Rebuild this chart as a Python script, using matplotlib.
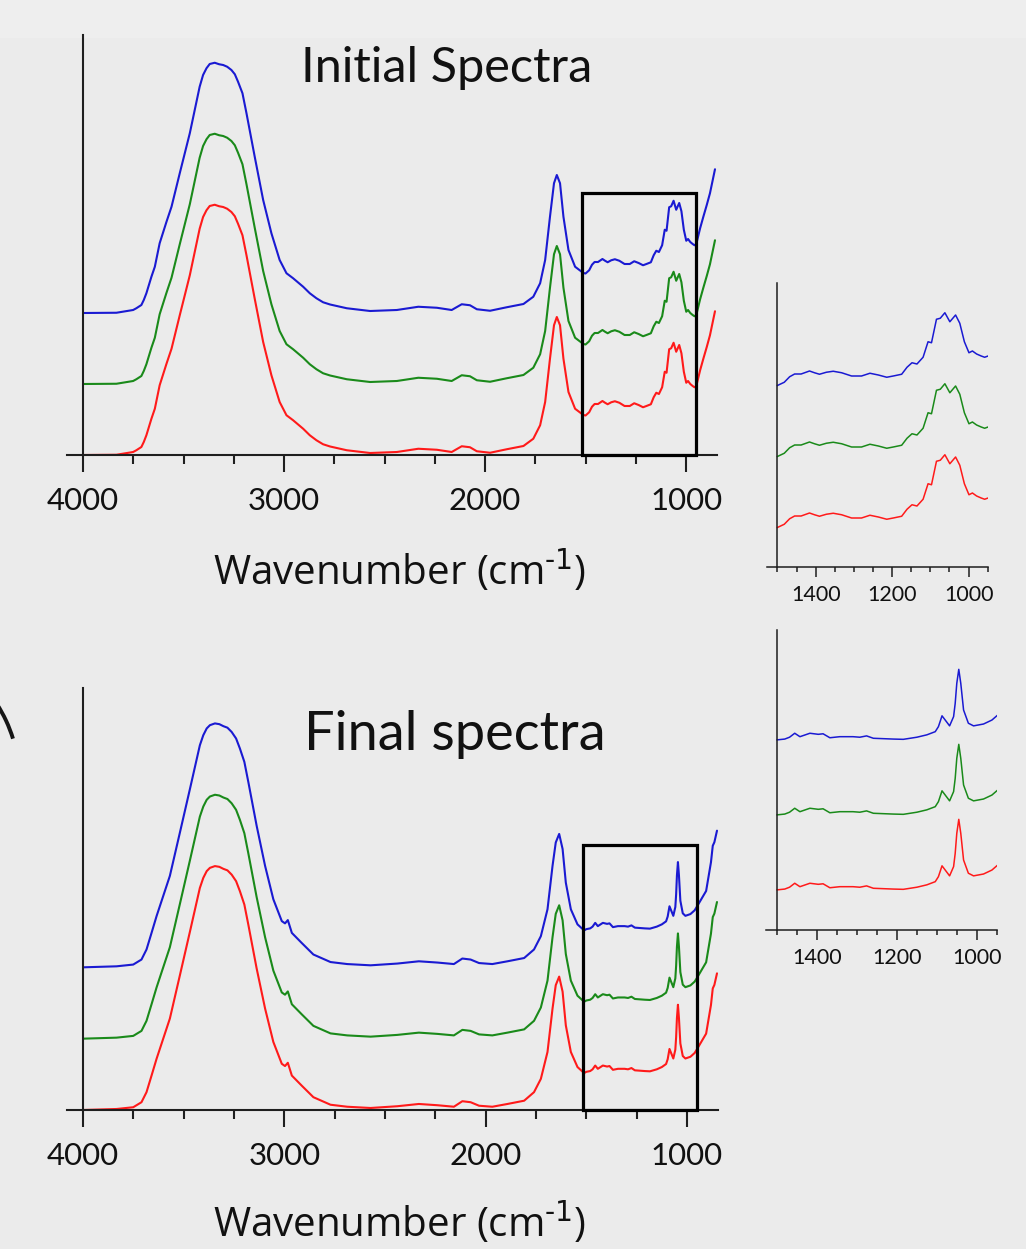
import numpy as np
import matplotlib.pyplot as plt
from matplotlib.patches import Rectangle, Arc
from matplotlib.ticker import MultipleLocator

# wavenumber (cm-1) / absorbance, initial spectra
initialWn = [4000, 3834, 3751, 3735, 3710, 3698, 3685, 3660, 3643, 3619, 3585, 3560,
             3519, 3469, 3420, 3403, 3386, 3370, 3345, 3323, 3303, 3283, 3262, 3245,
             3229, 3207, 3187, 3146,
             3104, 3063, 3022, 2988, 2955, 2905, 2872, 2839, 2806, 2771, 2688, 2572,
             2439, 2332, 2240, 2166, 2116, 2075, 2041, 1975, 1892, 1809,
             1760, 1726, 1701, 1677, 1657, 1643, 1627, 1610, 1585, 1552, 1511,
             1500, 1482, 1468, 1455, 1438, 1416, 1403, 1390, 1372, 1354,
             1332, 1306, 1280, 1258, 1236, 1214, 1197, 1175, 1161, 1148,
             1135, 1119, 1106, 1097, 1084, 1074, 1062, 1049, 1034, 1023,
             1011, 999, 990, 979, 967, 958, 949,
             930, 914, 897, 881, 856]
initialAbs = [0.000, 0.001, 0.012, 0.019, 0.032, 0.052, 0.079, 0.145, 0.185, 0.279, 0.365, 0.425,
              0.559, 0.719, 0.905, 0.952, 0.979, 0.996, 1.001, 0.995, 0.992, 0.985, 0.972, 0.955,
              0.925, 0.879, 0.799, 0.625,
              0.452, 0.319, 0.212, 0.159, 0.139, 0.105, 0.079, 0.059, 0.043, 0.034, 0.019, 0.008,
              0.012, 0.025, 0.021, 0.012, 0.035, 0.031, 0.015, 0.009, 0.023, 0.036,
              0.065, 0.119, 0.212, 0.385, 0.519, 0.552, 0.519, 0.385, 0.252, 0.185, 0.160,
              0.158, 0.171, 0.193, 0.204, 0.204, 0.216, 0.209, 0.203, 0.211, 0.215,
              0.209, 0.196, 0.196, 0.207, 0.200, 0.191, 0.196, 0.203, 0.231, 0.249,
              0.244, 0.271, 0.333, 0.329, 0.423, 0.427, 0.449, 0.413, 0.440, 0.407,
              0.333, 0.289, 0.296, 0.284, 0.276, 0.271, 0.276,
              0.339, 0.385, 0.432, 0.479, 0.575]

# final spectra
finalWn = [4000, 3834, 3751, 3710, 3685, 3660, 3635, 3602, 3569, 3519,
           3469, 3420, 3403, 3386, 3370, 3345, 3323, 3303, 3283, 3262, 3240, 3221, 3199,
           3179, 3138, 3096,
           3055, 3013, 2997, 2983, 2963, 2914, 2856, 2771, 2688, 2572,
           2439, 2332, 2240, 2158, 2116, 2075, 2033, 1967, 1892, 1809,
           1760, 1726, 1693, 1668, 1652, 1635, 1618, 1602, 1577, 1544, 1511,
           1500, 1481, 1469, 1456, 1443, 1418, 1397, 1385, 1368, 1343,
           1310, 1293, 1276, 1259, 1209, 1184, 1150, 1125, 1104, 1096,
           1087, 1079, 1068, 1058, 1054, 1050, 1045, 1040, 1033, 1021,
           1008, 983, 962, 949, 905, 881, 872, 864, 851]
finalAbs = [0.000, 0.004, 0.011, 0.031, 0.071, 0.137, 0.204, 0.284, 0.364, 0.537,
            0.711, 0.884, 0.924, 0.951, 0.964, 0.971, 0.968, 0.960, 0.954, 0.937, 0.911, 0.871, 0.818,
            0.737, 0.564, 0.404,
            0.271, 0.184, 0.175, 0.188, 0.137, 0.097, 0.051, 0.021, 0.013, 0.008,
            0.015, 0.024, 0.019, 0.013, 0.035, 0.031, 0.017, 0.013, 0.024, 0.037,
            0.071, 0.124, 0.231, 0.404, 0.497, 0.531, 0.471, 0.337, 0.231, 0.171, 0.147,
            0.152, 0.155, 0.162, 0.177, 0.164, 0.177, 0.173, 0.175, 0.160, 0.164,
            0.164, 0.162, 0.167, 0.158, 0.155, 0.154, 0.162, 0.171, 0.183, 0.202,
            0.243, 0.227, 0.205, 0.240, 0.290, 0.366, 0.419, 0.366, 0.265, 0.215,
            0.205, 0.212, 0.227, 0.244, 0.304, 0.418, 0.484, 0.498, 0.544]

# the three traces are stacked with a constant offset (bottom to top)
traceColors = ['#ff1a1a', '#1a8a1a', '#1a1ad2']
stackOffset = [0.0, 0.284, 0.568]

BG = '#ebebeb'
INK = '#1e1e1e'
W, H = 1026, 1249


def px(x, y):
    # pixel position (from top left) -> figure fraction
    return x / W, (H - y) / H


def styleAxes(ax, spineAt, lw):
    ax.set_facecolor('none')
    for s in ['top', 'right']:
        ax.spines[s].set_visible(False)
    ax.spines['left'].set_position(('data', spineAt))
    for s in ['left', 'bottom']:
        ax.spines[s].set_linewidth(lw)
        ax.spines[s].set_color(INK)
    ax.set_yticks([])


def drawMain(fig, rect, wn, ab, boxTop):
    ax = fig.add_axes(rect)
    styleAxes(ax, 4000, 1.5)
    for col, off in zip(traceColors, stackOffset):
        ax.plot(wn, np.array(ab) + off, color=col, lw=1.5,
                solid_joinstyle='round', solid_capstyle='round')
    ax.set_xlim(4080, 846)
    ax.set_ylim(0, 1.68)
    ax.xaxis.set_major_locator(MultipleLocator(1000))
    ax.xaxis.set_minor_locator(MultipleLocator(250))
    ax.tick_params(axis='x', which='major', length=12, width=1.5, color=INK,
                   pad=11, labelsize=22.5, labelcolor='#111111')
    ax.tick_params(axis='x', which='minor', length=6.5, width=1.5, color=INK)
    # zoom window marking the region shown in the inset
    ax.add_patch(Rectangle((950, 0), 1517 - 950, boxTop, fill=False,
                           lw=2.3, edgecolor='#000000', clip_on=False, zorder=5))
    return ax


def drawInset(fig, rect, wn, ab):
    ax = fig.add_axes(rect)
    styleAxes(ax, 1500, 1.1)
    wn = np.array(wn)
    ab = np.array(ab)
    keep = (wn <= 1500) & (wn >= 949)
    for col, off in zip(traceColors, stackOffset):
        ax.plot(wn[keep], ab[keep] + off, color=col, lw=1.1,
                solid_joinstyle='round')
    ax.set_xlim(1528, 950)
    ax.set_ylim(0, 1.136)
    ax.xaxis.set_major_locator(MultipleLocator(200))
    ax.xaxis.set_minor_locator(MultipleLocator(50))
    ax.tick_params(axis='x', which='major', length=7, width=1.1, color=INK,
                   pad=6, labelsize=15.5, labelcolor='#111111')
    ax.tick_params(axis='x', which='minor', length=3.8, width=1.1, color=INK)
    return ax


def main():
    plt.rcParams['font.family'] = ['Lato', 'DejaVu Sans']
    plt.rcParams['mathtext.default'] = 'regular'

    fig = plt.figure(figsize=(W / 100, H / 100), dpi=100)
    fig.patch.set_facecolor(BG)
    # slightly lighter strip along the top edge
    fig.add_artist(Rectangle(px(0, 38), 1, 38 / H, transform=fig.transFigure,
                             color='#eeeeee', lw=0, zorder=-1))

    l0, b0 = px(67, 455)
    drawMain(fig, [l0, b0, 650 / W, 420 / H], initialWn, initialAbs, 1.048)
    l1, b1 = px(67, 1110)
    drawMain(fig, [l1, b1, 651 / W, 422 / H], finalWn, finalAbs, 1.053)

    l2, b2 = px(766.7, 567)
    drawInset(fig, [l2, b2, 221 / W, 284 / H], initialWn, initialAbs)
    l3, b3 = px(766, 930)
    drawInset(fig, [l3, b3, 230.7 / W, 300 / H], finalWn, finalAbs)

    fig.text(*px(447, 82), 'Initial Spectra', ha='center', va='baseline',
             fontsize=35, color='#111111')
    fig.text(*px(455, 750), 'Final spectra', ha='center', va='baseline',
             fontsize=39, color='#111111')
    # short hyphen in the exponent, as in the original
    xlab = 'Wavenumber (cm$^{\\text{-1}}$)'
    for yb in [585, 1237]:
        fig.text(*px(400, yb), xlab, ha='center', va='baseline', fontsize=29,
                 family=['Open Sans', 'DejaVu Sans'], color='#111111')

    # piece of a bracket cut off at the left edge
    fig.add_artist(Arc((-1.19, (H - 779) / 100), 2.76, 2.76, theta1=17, theta2=33,
                       transform=fig.dpi_scale_trans, lw=2.8, color='#151515'))

    fig.savefig('out.png', dpi=100, facecolor=fig.get_facecolor())


if __name__ == "__main__":
    main()
